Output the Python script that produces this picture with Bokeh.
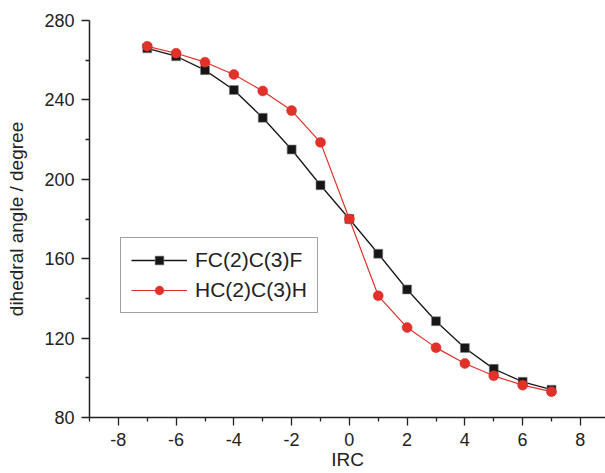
from bokeh.plotting import figure
from bokeh.models import FixedTicker, Range1d, Legend, LegendItem, CustomJSTickFormatter
from bokeh.embed import file_html
from bokeh.resources import INLINE

irc = [-7, -6, -5, -4, -3, -2, -1, 0, 1, 2, 3, 4, 5, 6, 7]
fccf = [266, 262, 255, 245, 231, 215, 197, 180, 162.5, 144.5, 128.5, 115, 104.5, 98, 94]
hcch = [267, 263.5, 259, 252.8, 244.5, 234.6, 218.6, 180, 141.3, 125.3, 115.2, 107.2, 101, 96.3, 93]
x_major = [-8, -6, -4, -2, 0, 2, 4, 6, 8]
x_minor = [-9, -7, -5, -3, -1, 1, 3, 5, 7, 9]
y_major = [80, 120, 160, 200, 240, 280]
y_minor = [100, 140, 180, 220, 260]

FONT = "Liberation Sans"
RED = "#e0312a"
BLK = "#161616"

p = figure(width=605, height=473, output_backend="svg", toolbar_location=None,
           x_range=Range1d(-9, 8.87), y_range=Range1d(80, 280),
           min_border_left=89, min_border_right=0, min_border_top=20, min_border_bottom=56)
p.outline_line_color = None
p.xgrid.visible = False
p.ygrid.visible = False
p.background_fill_color = "white"
p.border_fill_color = "white"

for ax, maj, mn in ((p.xaxis[0], x_major, x_minor), (p.yaxis[0], y_major, y_minor)):
    ax.ticker = FixedTicker(ticks=maj, minor_ticks=mn)
    ax.formatter = CustomJSTickFormatter(code="return String(tick);")
    ax.axis_line_color = "#222222"
    ax.axis_line_width = 1.5
    ax.major_tick_line_color = "#222222"
    ax.minor_tick_line_color = "#222222"
    ax.major_tick_line_width = 1.3
    ax.minor_tick_line_width = 1.3
    ax.major_tick_out = 8
    ax.major_tick_in = 0
    ax.minor_tick_out = 4
    ax.minor_tick_in = 0
    ax.major_label_text_font = FONT
    ax.major_label_text_font_size = "18px"
    ax.major_label_text_color = "#222222"
    ax.axis_label_text_font = FONT
    ax.axis_label_text_font_size = "19px"
    ax.axis_label_text_font_style = "normal"
    ax.axis_label_text_color = "#222222"

p.xaxis.axis_label = "IRC"
p.yaxis.axis_label = "dihedral angle / degree"
p.xaxis.major_label_standoff = 7
p.xaxis.axis_label_standoff = 0
p.yaxis.major_label_standoff = 7
p.yaxis.axis_label_standoff = 14

l1 = p.line(irc, fccf, line_color=BLK, line_width=1.3)
m1 = p.scatter(irc, fccf, marker="square", size=9, fill_color=BLK, line_color="#888888", line_width=0.6)
l2 = p.line(irc, hcch, line_color=RED, line_width=1.2)
m2 = p.scatter(irc, hcch, marker="circle", size=10, fill_color=RED, line_color=RED, line_width=0.5)

legend = Legend(items=[LegendItem(label="FC(2)C(3)F", renderers=[l1, m1]),
                       LegendItem(label="HC(2)C(3)H", renderers=[l2, m2])],
                location=(31, 104), orientation="vertical",
                padding=10, spacing=6, margin=0,
                glyph_width=56, glyph_height=22, label_height=22, label_standoff=8,
                label_text_font=FONT, label_text_font_size="21px", label_text_color="#222222",
                border_line_color="#444444", border_line_width=1.2,
                background_fill_color="white", background_fill_alpha=1.0)
p.add_layout(legend, "center")

open("out.html", "w").write(file_html(p, INLINE))
